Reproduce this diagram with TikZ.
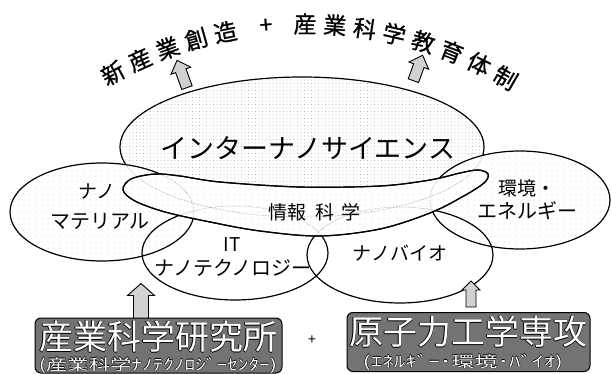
\documentclass[tikz,border=0pt]{standalone}
\usepackage{fontspec}
\newfontfamily\jp{Noto Sans CJK JP}
\newfontfamily\jpb{Noto Sans CJK JP}[FakeBold=0.8]
\usetikzlibrary{patterns.meta}
\newcommand\olt[2][.6pt]{%
  \leavevmode\setbox0=\hbox{#2}%
  \rlap{\color{black}\kern#1\copy0}%
  \rlap{\color{black}\kern-#1\copy0}%
  \rlap{\color{black}\raise#1\copy0}%
  \rlap{\color{black}\lower#1\copy0}%
  {\color{white}\box0}}
% block arrow: centre, angle, length, shaft width, head width, head length
\newcommand\blockarrow[6]{%
  \begin{scope}[shift={(#1)}, rotate=#2]
    \draw[arrst] ({-(#3)/2},{-(#4)/2}) -- ({(#3)/2-(#6)},{-(#4)/2}) -- ({(#3)/2-(#6)},{-(#5)/2})
      -- ({(#3)/2},0) -- ({(#3)/2-(#6)},{(#5)/2}) -- ({(#3)/2-(#6)},{(#4)/2}) -- ({-(#3)/2},{(#4)/2}) -- cycle;
  \end{scope}}
\def\bigE{(302,147) ellipse [x radius=182pt, y radius=70pt]}
\def\leftE{(102,212) ellipse [x radius=92pt, y radius=49pt]}
\def\rightE{(520,200) ellipse [x radius=90pt, y radius=49pt]}
\def\itE{(235,253) ellipse [x radius=93pt, y radius=47pt]}
\def\bioE{(400,255) ellipse [x radius=93pt, y radius=48pt]}
\def\bandP{plot[smooth cycle, tension=0.55] coordinates {(123,190) (131,179) (155,174) (180,176) (220,182) (300,187) (380,186) (430,180) (460,173) (478,170) (488,174) (484,183) (462,197) (430,213) (380,229) (320,236) (260,231) (210,222) (165,212) (135,201)}}
\begin{document}
\begin{tikzpicture}[x=1pt,y=-1pt,
  every node/.style={font=\jp, inner sep=0pt},
  stipdense/.style={preaction={fill=white}, pattern={Dots[distance=3.5pt,radius=0.4pt]}, pattern color=black!45},
  stip/.style={preaction={fill=white}, pattern={Dots[distance=6pt,radius=0.4pt]}, pattern color=black!45},
  edge/.style={draw=black, line width=1.2pt},
  hid/.style={draw=black!50, line width=0.5pt, densely dotted},
  arrst/.style={draw=black, line width=0.9pt, fill=black!18, line join=miter},
  graybox/.style={draw=black, line width=1pt, rounded corners=6pt, fill=black!55},
  lab/.style={font=\jp\fontsize{20}{20}\selectfont},
  ttl/.style={font=\jpb\fontsize{23}{23}\selectfont},
]
\useasboundingbox (0,0) rectangle (612,374);
% ellipses
\path[stipdense, edge] \bigE;
\path[stip] \leftE;
\path[stip] \rightE;
\begin{scope}
  \clip \leftE;
  \path[hid] \bigE;
\end{scope}
\begin{scope}
  \clip \rightE;
  \path[hid] \bigE;
\end{scope}
\path[edge] \leftE;
\path[edge] \rightE;
\path[edge] \itE;
\path[edge] \bioE;
\path[stip, edge] \bandP;
\begin{scope}
  \clip \bandP;
  \path[hid] \bigE;
  \path[hid] \leftE;
  \path[hid] \rightE;
  \path[hid] \itE;
  \path[hid] \bioE;
\end{scope}
\path[edge] \bandP;
% title on arc
\foreach \c/\a [count=\i] in {新/-28.7,産/-24.4,業/-20.1,創/-15.8,造/-11.5,+/-5.6,産/0,業/4.3,科/8.6,学/12.9,教/17.2,育/21.5,体/25.8,制/30.1}
  \node[ttl, rotate={-(\a)}] (t\i) at ({305+400*sin(\a)},{424-400*cos(\a)}) {\c};
% arrows
\blockarrow{182,74}{110}{29}{11}{21}{11}
\blockarrow{418,68}{70}{27}{11}{21}{11}
\blockarrow{141,301}{90}{35}{15}{27}{12}
\blockarrow{471,294}{90}{26}{10}{18}{9}
% labels
\node[font=\jp\fontsize{27}{27}\selectfont] (inter) at (308,148) {インターナノサイエンス};
\node[font=\jp\fontsize{19}{19}\selectfont] (nano1) at (97,192) {ナノ};
\node[lab] (mat) at (100,221) {マテリアル};
\node[font=\jp\fontsize{19}{19}\selectfont] (env1) at (527,188) {環境・};
\node[lab] (ene) at (527,211) {エネルギー};
\node[font=\jp\fontsize{19}{19}\selectfont] (info) at (314,212) {情報\hspace{10pt}科\hspace{6pt}学};
\node[font=\jp\fontsize{19}{19}\selectfont] (it) at (232,245) {IT};
\node[lab] (nanotech) at (233,268) {ナノテクノロジー};
\node[font=\jp\fontsize{19}{19}\selectfont] (bio) at (400,253) {ナノバイオ};
% boxes
\node[graybox, minimum width=247pt, minimum height=55pt] (boxL) at (158.5,345.5) {};
\node (boxLa) at (158,337) {\olt{\fontsize{34}{34}\selectfont 産業科学研究所}};
\node (boxLb) at (158,365) {\olt[.5pt]{\resizebox{238pt}{13pt}{(産業科学ﾅﾉﾃｸﾉﾛｼﾞｰｾﾝﾀｰ)}}};
\node[graybox, minimum width=243pt, minimum height=59pt] (boxR) at (468.5,342) {};
\node (boxRa) at (468,332) {\olt{\fontsize{34}{34}\selectfont 原子力工学専攻}};
\node (boxRb) at (463,362) {\olt[.5pt]{\resizebox{200pt}{13pt}{(ｴﾈﾙｷﾞｰ･環境･ﾊﾞｲｵ)}}};
\node[font=\jp\fontsize{14}{14}\selectfont] (plus) at (312,340) {+};
\end{tikzpicture}
\end{document}
